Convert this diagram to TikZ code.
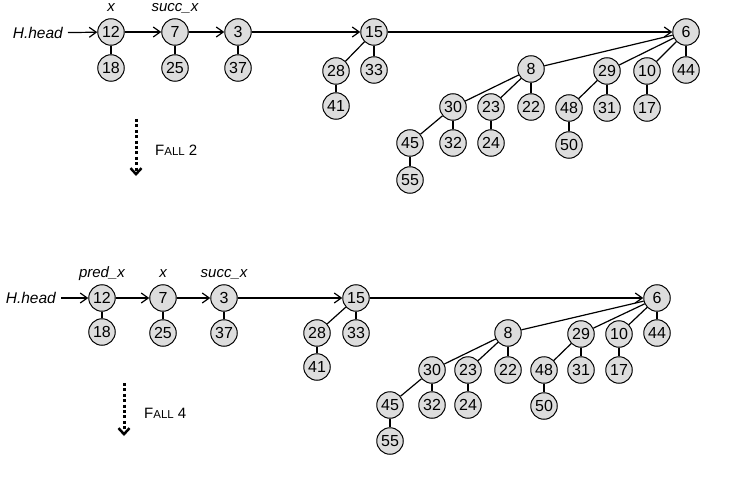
\documentclass[tikz,border=0pt]{standalone}
\usepackage{fontspec}
\setmainfont{Liberation Sans}
\usetikzlibrary{arrows.meta}
\tikzset{
  hn/.style={circle, draw=black, line width=1pt, fill=nodegray, minimum size=26.5pt, inner sep=0pt, font=\fontsize{16}{18}\selectfont},
  lbl/.style={font=\fontsize{15}{17}\selectfont\itshape, inner sep=0pt, anchor=base},
  edge/.style={draw=black, line width=1.2pt},
  link/.style={draw=black, line width=1.2pt, -{Straight Barb[length=7pt,width=10pt,line width=1.2pt]}},
  fallarrow/.style={draw=black, line width=3pt, dash pattern=on 3pt off 2.4pt, -{Straight Barb[length=6pt,width=11pt,line width=2.5pt]}},
  falltxt/.style={inner sep=0pt, anchor=west},
}
\definecolor{nodegray}{RGB}{221,221,221}
\newcommand{\fallsc}[1]{\fontsize{15}{17}\selectfont F\fontsize{11.5}{14}\selectfont ALL\fontsize{15}{17}\selectfont\ #1}
\begin{document}
\begin{tikzpicture}[x=1pt,y=-1pt]
\useasboundingbox (0,0) rectangle (731,484);
% ---------- top ----------
\node[font=\fontsize{15.5}{17}\selectfont\itshape, inner xsep=5pt, inner ysep=0pt, anchor=east] (thh) at (68,33) {H.head};
\node[hn] (t12) at (111,32) {12};
\node[hn] (t18) at (111,68) {18};
\node[hn] (t7) at (175,32) {7};
\node[hn] (t25) at (175,68) {25};
\node[hn] (t3) at (238,32) {3};
\node[hn] (t37) at (238,68) {37};
\node[hn] (t15) at (374,32) {15};
\node[hn] (t28) at (336,71) {28};
\node[hn] (t33) at (374,70) {33};
\node[hn] (t41) at (336,106) {41};
\node[hn] (t6) at (686,32) {6};
\node[hn] (t8) at (531,69) {8};
\node[hn] (t29) at (607,71) {29};
\node[hn] (t10) at (647,71) {10};
\node[hn] (t44) at (686,70) {44};
\node[hn] (t30) at (453,107) {30};
\node[hn] (t23) at (491,107) {23};
\node[hn] (t22) at (531,107) {22};
\node[hn] (t48) at (569,108) {48};
\node[hn] (t31) at (607,108) {31};
\node[hn] (t17) at (647,108) {17};
\node[hn] (t45) at (410,143) {45};
\node[hn] (t32) at (453,143) {32};
\node[hn] (t24) at (491,143) {24};
\node[hn] (t50) at (569,145) {50};
\node[hn] (t55) at (410,180) {55};
\node[lbl] (tlx) at (111,12) {x};
\node[lbl] (tls) at (175,12) {succ\_x};
\draw[link] (thh) -- (t12);
\draw[link] (t12) -- (t7);
\draw[link] (t7) -- (t3);
\draw[link] (t3) -- (t15);
\draw[link] (t15) -- (t6);
\foreach \a/\b in {12/18,7/25,3/37,15/28,15/33,28/41,6/8,6/29,6/10,6/44,8/30,8/23,8/22,29/48,29/31,10/17,30/45,30/32,23/24,48/50,45/55}
  \draw[edge] (t\a) -- (t\b);
\coordinate (tfa) at (136,119);
\coordinate (tfb) at (136,176);
\draw[fallarrow] (tfa) -- (tfb);
\node[falltxt] (tft) at (155,150) {\fallsc{2}};
% ---------- bottom ----------
\node[font=\fontsize{15.5}{17}\selectfont\itshape, inner xsep=5pt, inner ysep=0pt, anchor=east] (bhh) at (61,298) {H.head};
\node[hn] (b12) at (102,298) {12};
\node[hn] (b18) at (102,332) {18};
\node[hn] (b7) at (163,298) {7};
\node[hn] (b25) at (163,333) {25};
\node[hn] (b3) at (224,298) {3};
\node[hn] (b37) at (224,333) {37};
\node[hn] (b15) at (356,298) {15};
\node[hn] (b28) at (317,333) {28};
\node[hn] (b33) at (356,333) {33};
\node[hn] (b41) at (317,367) {41};
\node[hn] (b6) at (657,298) {6};
\node[hn] (b8) at (508,333) {8};
\node[hn] (b29) at (581,334) {29};
\node[hn] (b10) at (619,334) {10};
\node[hn] (b44) at (657,333) {44};
\node[hn] (b30) at (432,370) {30};
\node[hn] (b23) at (468,370) {23};
\node[hn] (b22) at (508,370) {22};
\node[hn] (b48) at (544,370) {48};
\node[hn] (b31) at (581,370) {31};
\node[hn] (b17) at (619,370) {17};
\node[hn] (b45) at (390,405) {45};
\node[hn] (b32) at (432,405) {32};
\node[hn] (b24) at (468,405) {24};
\node[hn] (b50) at (544,406) {50};
\node[hn] (b55) at (390,441) {55};
\node[lbl] (blp) at (102,277.5) {pred\_x};
\node[lbl] (blx) at (163,277.5) {x};
\node[lbl] (bls) at (224,277.5) {succ\_x};
\draw[link] (bhh) -- (b12);
\draw[link] (b12) -- (b7);
\draw[link] (b7) -- (b3);
\draw[link] (b3) -- (b15);
\draw[link] (b15) -- (b6);
\foreach \a/\b in {12/18,7/25,3/37,15/28,15/33,28/41,6/8,6/29,6/10,6/44,8/30,8/23,8/22,29/48,29/31,10/17,30/45,30/32,23/24,48/50,45/55}
  \draw[edge] (b\a) -- (b\b);
\coordinate (bfa) at (124,383);
\coordinate (bfb) at (124,436);
\draw[fallarrow] (bfa) -- (bfb);
\node[falltxt] (bft) at (144,413) {\fallsc{4}};
\end{tikzpicture}
\end{document}
